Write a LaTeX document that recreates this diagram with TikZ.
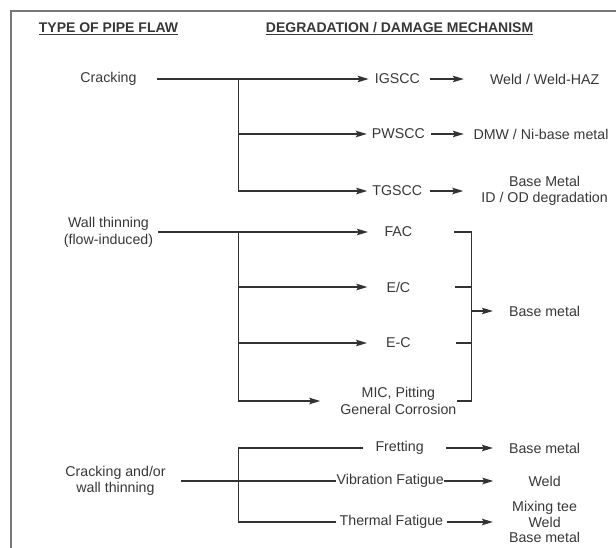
\documentclass[tikz,border=0pt]{standalone}
\usepackage{fontspec}
\setmainfont{Liberation Sans}
\usetikzlibrary{arrows.meta}
\definecolor{ink}{RGB}{50,50,50}
\definecolor{txt}{RGB}{55,55,55}
\definecolor{frame}{RGB}{120,120,120}
\begin{document}
\begin{tikzpicture}[x=1pt,y=-1pt,
  lbl/.style={inner sep=0pt,text=txt,font=\fontsize{14.2}{15.5}\selectfont,align=center},
  hdr/.style={inner sep=0pt,text=txt,font=\fontsize{14}{16}\selectfont\bfseries},
  ln/.style={draw=ink,line width=1.2pt},
  arr/.style={ln,-{Stealth[length=11pt,width=6.5pt,inset=2pt]}},
  frm/.style={draw=frame,line width=1.8pt}]
\useasboundingbox (0,0) rectangle (616,548);
% frame
\draw[frm] (11,548) -- (11,11) -- (616,11);
% headers
\node[hdr] (h1) at (108.5,29) {\underline{TYPE OF PIPE FLAW}};
\node[hdr] (h2) at (399.6,29) {\underline{DEGRADATION / DAMAGE MECHANISM}};
% cracking group
\node[lbl] (crack) at (108.5,79) {Cracking};
\node[lbl] (igscc) at (397.3,79) {IGSCC};
\node[lbl] (weld1) at (544.6,79) {Weld / Weld-HAZ};
\node[lbl] (pwscc) at (398.4,134) {PWSCC};
\node[lbl] (dmw) at (541,134) {DMW / Ni-base metal};
\node[lbl] (tgscc) at (397.3,191) {TGSCC};
\node[lbl] (bm1) at (544.6,191) {Base Metal\\ID / OD degradation};
\coordinate (b1) at (238.1,79);
\draw[arr] ([xshift=20pt]crack.east) -- ([xshift=-6pt]igscc.west);
\draw[arr] (b1) |- ([xshift=-5pt]tgscc.west);
\draw[arr] (b1 |- pwscc) -- ([xshift=-5pt]pwscc.west);
\draw[arr] ([xshift=10.5pt]igscc.east) -- ([xshift=-26pt]weld1.west);
\draw[arr] ([xshift=6pt]pwscc.east) -- ([xshift=-9.5pt]dmw.west);
\draw[arr] ([xshift=8pt]tgscc.east) -- ([xshift=-18pt]bm1.west);
% wall thinning group
\node[lbl,font=\fontsize{14.2}{17}\selectfont] (wall) at (108.5,232) {Wall thinning\\(flow-induced)};
\node[lbl] (fac) at (398.4,232) {FAC};
\node[lbl] (ec1) at (398.4,287) {E/C};
\node[lbl] (ec2) at (398.4,343) {E-C};
\node[lbl,font=\fontsize{14.2}{16.5}\selectfont] (mic) at (398.4,401) {MIC, Pitting\\General Corrosion};
\node[lbl] (bm2) at (544.6,311) {Base metal};
\coordinate (b2) at (238.1,232);
\coordinate (brt) at (471.5,232);
\coordinate (brb) at (471.5,401);
\draw[arr] ([xshift=5pt]wall.east) -- ([xshift=-16.5pt]fac.west);
\draw[arr] (b2) |- ([xshift=-20pt]mic.west);
\draw[arr] (b2 |- ec1) -- ([xshift=-19pt]ec1.west);
\draw[arr] (b2 |- ec2) -- ([xshift=-19pt]ec2.west);
\draw[ln] ([xshift=42pt]fac.east) -- (brt) -- (brb) -- (mic.east);
\draw[ln] ([xshift=45pt]ec1.east) -- (ec1 -| brt);
\draw[ln] ([xshift=45pt]ec2.east) -- (ec2 -| brt);
\draw[arr] (bm2 -| brt) -- ([xshift=-16pt]bm2.west);
% cracking and/or wall thinning group
\node[lbl] (cw) at (115.5,481) {Cracking and/or\\wall thinning};
\node[lbl] (fret) at (399.6,448) {Fretting};
\node[lbl] (bm3) at (544.6,448) {Base metal};
\node[lbl] (vib) at (390.2,481) {Vibration Fatigue};
\node[lbl] (weld2) at (544.6,481) {Weld};
\node[lbl] (therm) at (391.4,522) {Thermal Fatigue};
\node[lbl] (mix) at (544.6,522) {Mixing tee\\Weld\\Base metal};
\coordinate (b3) at (238.1,448);
\draw[ln] ([xshift=-12pt]fret.west) -- (b3) |- ([xshift=-3.5pt]therm.west);
\draw[ln] ([xshift=15pt]cw.east) -- (vib.west);
\draw[arr] ([xshift=22pt]fret.east) -- ([xshift=-16pt]bm3.west);
\draw[arr] (vib.east) -- ([xshift=-35pt]weld2.west);
\draw[arr] ([xshift=3.5pt]therm.east) -- ([xshift=-16pt]mix.west);
\end{tikzpicture}
\end{document}
